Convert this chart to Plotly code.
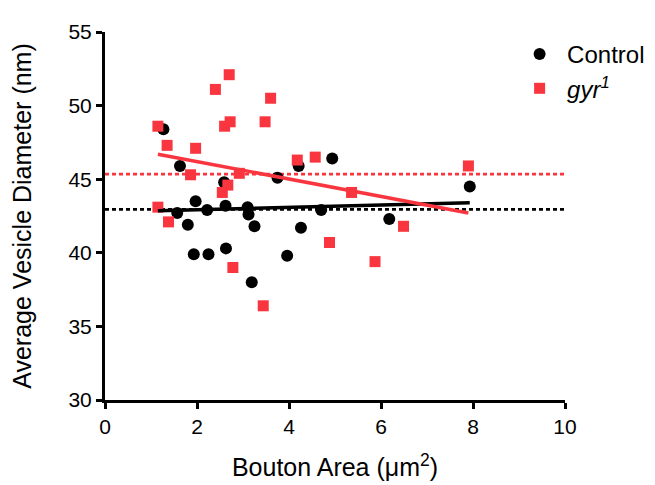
import plotly.graph_objects as go

# Control boutons: area (um^2) vs average vesicle diameter (nm)
control_area = [1.27, 1.63, 2.59, 3.75, 4.21, 1.97, 2.62, 3.10, 1.57, 2.22, 3.12, 4.70,
                1.80, 3.25, 4.26, 1.93, 2.25, 2.63, 3.96, 3.19, 4.94, 7.93, 6.18]
control_diam = [48.4, 45.9, 44.8, 45.1, 45.9, 43.5, 43.2, 43.1, 42.7, 42.9, 42.6, 42.9,
                41.9, 41.8, 41.7, 39.9, 39.9, 40.3, 39.8, 38.0, 46.4, 44.5, 42.3]

# gyr1 boutons
gyr_area = [1.15, 1.35, 1.97, 2.40, 2.70, 2.60, 2.72, 3.60, 3.48, 1.86, 2.92, 2.67,
            2.55, 4.18, 4.57, 1.15, 1.38, 2.78, 3.44, 5.36, 7.90, 4.88, 5.87, 6.49]
gyr_diam = [48.6, 47.3, 47.1, 51.1, 52.1, 48.6, 48.9, 50.5, 48.9, 45.3, 45.4, 44.6,
            44.1, 46.3, 46.5, 43.1, 42.1, 39.0, 36.4, 44.1, 45.9, 40.7, 39.4, 41.8]

# linear fits (end points) and group means, as drawn
control_fit_x = [1.15, 7.93]
control_fit_y = [42.85, 43.4]
gyr_fit_x = [1.15, 7.9]
gyr_fit_y = [46.7, 42.7]
mean_x = [0, 10]
control_mean = 42.95
gyr_mean = 45.35

RED = "#F9363F"
FONT = "Liberation Sans, Arial, sans-serif"

fig = go.Figure()

fig.add_trace(go.Scatter(x=mean_x, y=[control_mean] * 2, mode="lines",
                         line=dict(color="black", width=2.7, dash="4px,3px"),
                         showlegend=False, hoverinfo="skip"))
fig.add_trace(go.Scatter(x=mean_x, y=[gyr_mean] * 2, mode="lines",
                         line=dict(color=RED, width=2.7, dash="4px,3px"),
                         showlegend=False, hoverinfo="skip"))

fig.add_trace(go.Scatter(x=control_area, y=control_diam, mode="markers", name="Control",
                         marker=dict(symbol="circle", size=12, color="black")))
fig.add_trace(go.Scatter(x=gyr_area, y=gyr_diam, mode="markers", name="<i>gyr<sup>1</sup></i>",
                         marker=dict(symbol="square", size=11, color=RED)))

fig.add_trace(go.Scatter(x=control_fit_x, y=control_fit_y, mode="lines",
                         line=dict(color="black", width=3.5), showlegend=False))
fig.add_trace(go.Scatter(x=gyr_fit_x, y=gyr_fit_y, mode="lines",
                         line=dict(color=RED, width=3.5), showlegend=False))

axis_common = dict(showline=True, linewidth=3, linecolor="black", ticks="outside",
                   ticklen=6, tickwidth=3, tickcolor="black", showgrid=False,
                   zeroline=False, automargin=False,
                   tickfont=dict(size=21, color="black"))

fig.update_xaxes(range=[0, 10], dtick=2, tick0=0,
                 title=dict(text="Bouton Area (μm<sup>2</sup>)", font=dict(size=25, color="black"),
                            standoff=22),
                 **axis_common)
fig.update_yaxes(range=[30, 55], dtick=5, tick0=30,
                 title=dict(text="Average Vesicle Diameter (nm)", font=dict(size=25, color="black"),
                            standoff=33),
                 **axis_common)

# the page body adds an 8px offset, so margins are shifted to compensate
fig.update_layout(
    width=655, height=485,
    margin=dict(l=97, r=98, t=24, b=93),
    plot_bgcolor="white", paper_bgcolor="white",
    font=dict(family=FONT, color="black"),
    legend=dict(x=0.885, y=1.0, xanchor="left", yanchor="top", itemwidth=45,
                font=dict(size=24), bgcolor="rgba(0,0,0,0)", tracegroupgap=0),
)

fig.write_html("out.html")
